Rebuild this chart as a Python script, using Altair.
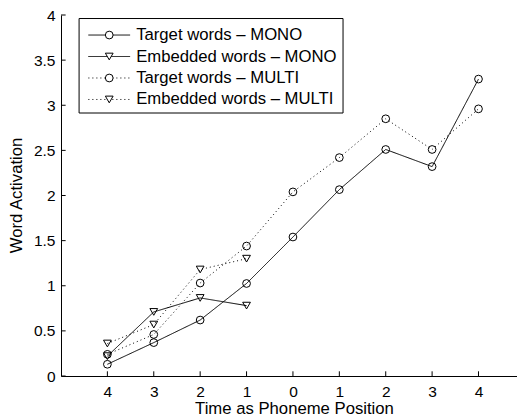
import altair as alt
import pandas as pd

# ---- data ----
positions = [1, 2, 3, 4, 5, 6, 7, 8, 9]
tick_labels = ["4", "3", "2", "1", "0", "1", "2", "3", "4"]

target_mono = [0.13, 0.37, 0.62, 1.025, 1.54, 2.065, 2.51, 2.32, 3.29]
embedded_mono = [0.22, 0.71, 0.865, 0.78]
target_multi = [0.24, 0.46, 1.03, 1.44, 2.04, 2.42, 2.85, 2.51, 2.96]
embedded_multi = [0.36, 0.57, 1.18, 1.30]

legend_labels = [
    "Target words \u2013 MONO",
    "Embedded words \u2013 MONO",
    "Target words \u2013 MULTI",
    "Embedded words \u2013 MULTI",
]
legend_kind = ["target", "embedded", "target", "embedded"]
legend_cond = ["MONO", "MONO", "MULTI", "MULTI"]
legend_rows_y = [3.778, 3.540, 3.302, 3.064]

y_ticks = [0, 0.5, 1, 1.5, 2, 2.5, 3, 3.5, 4]

FONT = "Liberation Sans"
FS = 16.7
TFS = 15.5

rows = []
for name, vals, kind, cond in [
    ("tm", target_mono, "target", "MONO"),
    ("em", embedded_mono, "embedded", "MONO"),
    ("tu", target_multi, "target", "MULTI"),
    ("eu", embedded_multi, "embedded", "MULTI"),
]:
    for x, v in zip(positions, vals):
        rows.append({"x": x, "y": v, "series": name, "kind": kind, "cond": cond})
df = pd.DataFrame(rows)

leg = pd.DataFrame({
    "label": legend_labels,
    "kind": legend_kind,
    "cond": legend_cond,
    "y": legend_rows_y,
    "x0": [0.59] * 4,
    "x1": [1.49] * 4,
    "xm": [1.04] * 4,
    "xt": [1.62] * 4,
})
box = pd.DataFrame({"x": [0.39], "x2": [6.08], "y": [2.914], "y2": [3.961]})

xticks_df = pd.DataFrame({"x": positions, "y": [0] * 9, "y2": [0.052] * 9})
yticks_df = pd.DataFrame({"y": y_ticks, "x": [0] * 9, "x2": [0.1] * 9})

label_expr = "[" + ",".join("'%s'" % t for t in tick_labels) + "][datum.value - 1]"

xscale = alt.Scale(domain=[0, 9.83], nice=False, zero=False)
yscale = alt.Scale(domain=[0, 4], nice=False)

dash_scale = alt.Scale(domain=["MONO", "MULTI"], range=[[1, 0], [1, 3]])
shape_scale = alt.Scale(domain=["target", "embedded"], range=["circle", "triangle-down"])

xaxis = alt.Axis(
    values=positions, labelExpr=label_expr, grid=False, ticks=False, tickSize=0,
    labelPadding=8, labelFont=FONT, labelFontSize=TFS, labelColor="black",
    domainColor="black", title="Time as Phoneme Position", titleFont=FONT,
    titleFontSize=FS, titleFontWeight="normal", titleColor="black",
    titleX=233, titleY=37, titleBaseline="alphabetic",
)
yaxis = alt.Axis(
    values=y_ticks, format="~g", grid=False, ticks=False, tickSize=0,
    labelPadding=6, labelFont=FONT, labelFontSize=TFS, labelColor="black",
    domainColor="black", title="Word Activation", titleFont=FONT,
    titleFontSize=FS, titleFontWeight="normal", titleColor="black",
    titleX=-45, titleY=180, titleAngle=270, titleAlign="center", titleBaseline="middle",
)

base = alt.Chart(df)
lines = base.mark_line(color="black", strokeWidth=1).encode(
    x=alt.X("x:Q", scale=xscale, axis=xaxis),
    y=alt.Y("y:Q", scale=yscale, axis=yaxis),
    strokeDash=alt.StrokeDash("cond:N", scale=dash_scale, legend=None),
    detail="series:N",
)
points = base.mark_point(color="black", filled=False, strokeWidth=1, size=60, opacity=1).encode(
    x="x:Q", y="y:Q",
    shape=alt.Shape("kind:N", scale=shape_scale, legend=None),
)

xt = alt.Chart(xticks_df).mark_rule(color="black", strokeWidth=1).encode(
    x="x:Q", y="y:Q", y2="y2:Q")
yt = alt.Chart(yticks_df).mark_rule(color="black", strokeWidth=1).encode(
    y="y:Q", x="x:Q", x2="x2:Q")

box_l = alt.Chart(box).mark_rect(fill="white", stroke="black", strokeWidth=1).encode(
    x="x:Q", x2="x2:Q", y="y:Q", y2="y2:Q")
leg_lines = alt.Chart(leg).mark_rule(color="black", strokeWidth=1).encode(
    x="x0:Q", x2="x1:Q", y="y:Q",
    strokeDash=alt.StrokeDash("cond:N", scale=dash_scale, legend=None),
)
leg_pts = alt.Chart(leg).mark_point(color="black", filled=False, fill="white", strokeWidth=1, size=60, opacity=1).encode(
    x="xm:Q", y="y:Q",
    shape=alt.Shape("kind:N", scale=shape_scale, legend=None),
)
leg_txt = alt.Chart(leg).mark_text(align="left", baseline="middle", font=FONT, fontSize=FS, color="black").encode(
    x="xt:Q", y="y:Q", text="label:N")

chart = alt.layer(lines, points, xt, yt, box_l, leg_lines, leg_pts, leg_txt).properties(
    width=456, height=361,
    padding={"left": 53, "top": 7, "right": 0, "bottom": 46},
    autosize="none",
    background="white",
).configure_view(stroke=None)

chart.save("out.html", embed_options={"renderer": "svg", "actions": False})
